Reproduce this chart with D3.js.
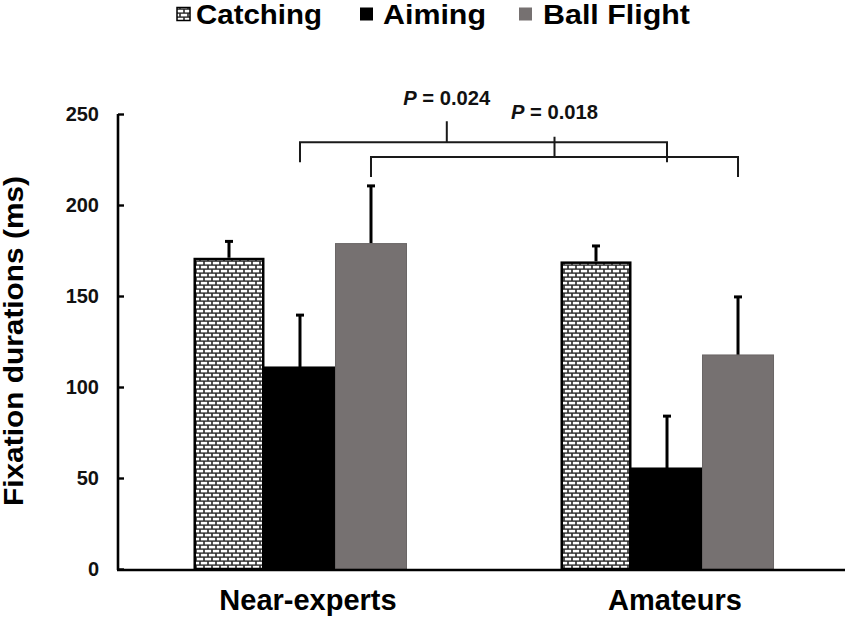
<!DOCTYPE html>
<html><head><meta charset="utf-8">
<script src="https://cdn.jsdelivr.net/npm/d3@7/dist/d3.min.js"></script>
<style>body{margin:0;background:#fff;} text{font-family:"Liberation Sans",Arial,sans-serif;}</style>
</head><body>
<svg id="c" width="853" height="618"></svg>
<script>
const groups = ["Near-experts", "Amateurs"];
const series = ["Catching", "Aiming", "Ball Flight"];
const catchingMean = [171, 169];
const catchingErr = [180, 177.5];
const aimingMean = [111, 55.5];
const aimingErr = [139.5, 84];
const flightMean = [178.8, 117.6];
const flightErr = [210.5, 149.5];
const yTicks = [0, 50, 100, 150, 200, 250];
const brackets = [
  {label: "0.024", group1: "Near-experts", group2: "Amateurs", series: "Aiming", level: 234.5, leg: 223.5, tickTop: 246, tickFrac: 0.40, labelY: 255},
  {label: "0.018", group1: "Near-experts", group2: "Amateurs", series: "Ball Flight", level: 226.4, leg: 215.4, tickTop: 237.5, tickFrac: 0.5, labelY: 247}
];

const means = {"Catching": catchingMean, "Aiming": aimingMean, "Ball Flight": flightMean};
const errs = {"Catching": catchingErr, "Aiming": aimingErr, "Ball Flight": flightErr};
const colors = {"Catching": "url(#brick)", "Aiming": "#000000", "Ball Flight": "#767171"};
const strokes = {"Catching": "#000", "Aiming": "#000", "Ball Flight": "#6a6666"};
const strokeW = {"Catching": 2.5, "Aiming": 1, "Ball Flight": 1};

const svg = d3.select("#c");
const defs = svg.append("defs");
const pat = defs.append("pattern").attr("id", "brick").attr("patternUnits", "userSpaceOnUse")
  .attr("width", 8).attr("height", 8).attr("x", 0).attr("y", 1);
pat.append("rect").attr("width", 8).attr("height", 8).attr("fill", "#2a2a2a");
[[0.8, 0.8], [4.8, 4.8], [-3.2, 4.8]].forEach(([x, y]) =>
  pat.append("rect").attr("x", x).attr("y", y).attr("width", 6.4).attr("height", 2.6).attr("fill", "#fff"));

const y = d3.scaleLinear().domain([0, 250]).range([569, 114]);
const x0 = d3.scaleBand().domain(groups).range([117, 850]).paddingInner(0.4196).paddingOuter(0.2084);
const x1 = d3.scaleBand().domain(series).range([0, x0.bandwidth()]).padding(0);

const rows = [];
groups.forEach((g, gi) => series.forEach(s => rows.push({g, s, v: means[s][gi], e: errs[s][gi]})));

// error bars (behind bars)
const eb = svg.append("g");
rows.forEach(d => {
  const cx = x0(d.g) + x1(d.s) + x1.bandwidth() / 2;
  eb.append("line").attr("x1", cx).attr("x2", cx).attr("y1", y(d.v)).attr("y2", y(d.e))
    .attr("stroke", "#000").attr("stroke-width", 3);
  eb.append("line").attr("x1", cx - 4).attr("x2", cx + 4).attr("y1", y(d.e)).attr("y2", y(d.e))
    .attr("stroke", "#000").attr("stroke-width", 3);
});

// bars
svg.append("g").selectAll("rect").data(rows).join("rect")
  .attr("x", d => x0(d.g) + x1(d.s) + (d.s === "Catching" ? 1.25 : 0))
  .attr("y", d => y(d.v) + (d.s === "Catching" ? 1.25 : 0))
  .attr("width", d => x1.bandwidth() - (d.s === "Catching" ? 2.5 : 0))
  .attr("height", d => y(0) - y(d.v) - (d.s === "Catching" ? 1.25 : 0))
  .attr("fill", d => colors[d.s])
  .attr("stroke", d => strokes[d.s])
  .attr("stroke-width", d => strokeW[d.s]);

// y axis
const yAxis = d3.axisRight(y).tickValues(yTicks).tickSize(6).tickFormat("");
const ya = svg.append("g").attr("transform", "translate(118,0)").call(yAxis);
ya.select(".domain").attr("stroke", "#000").attr("stroke-width", 2.6).attr("d", "M0,114V570");
ya.selectAll(".tick line").attr("stroke", "#000").attr("stroke-width", 2.4);
svg.append("g").selectAll("text").data(yTicks).join("text")
  .attr("x", 99).attr("y", d => y(d)).attr("dy", "0.36em").attr("text-anchor", "end")
  .attr("font-size", 20).attr("font-weight", "bold").attr("fill", "#111").text(d => d);

// x axis
const xAxis = d3.axisBottom(x0).tickSize(0).tickFormat("");
const xa = svg.append("g").attr("transform", "translate(0,570)").call(xAxis);
xa.select(".domain").attr("stroke", "#000").attr("stroke-width", 2.6).attr("d", "M117,0H845");
svg.append("g").selectAll("text").data(groups).join("text")
  .attr("x", d => x0(d) + x0.bandwidth() / 2 + 8).attr("y", 610).attr("text-anchor", "middle")
  .attr("font-size", 29).attr("font-weight", "bold").attr("fill", "#000").text(d => d);

// y title
svg.append("text").attr("transform", "translate(23,341) rotate(-90)").attr("text-anchor", "middle")
  .attr("font-size", 27).attr("font-weight", "bold").attr("fill", "#000")
  .attr("textLength", 330).attr("lengthAdjust", "spacingAndGlyphs")
  .text("Fixation durations (ms)");

// brackets
brackets.forEach(b => {
  const xa1 = x0(b.group1) + x1(b.series) + x1.bandwidth() / 2;
  const xa2 = x0(b.group2) + x1(b.series) + x1.bandwidth() / 2;
  const xt = xa1 + (xa2 - xa1) * b.tickFrac;
  svg.append("path")
    .attr("d", `M${xa1},${y(b.leg)}V${y(b.level)}H${xa2}V${y(b.leg)}M${xt},${y(b.level)}V${y(b.tickTop)}`)
    .attr("fill", "none").attr("stroke", "#1a1a1a").attr("stroke-width", 2);
  const t = svg.append("text").attr("x", xt).attr("y", y(b.labelY)).attr("text-anchor", "middle")
    .attr("font-size", 19.5).attr("font-weight", "bold").attr("fill", "#111")
    .attr("textLength", 87).attr("lengthAdjust", "spacingAndGlyphs");
  t.append("tspan").attr("font-style", "italic").text("P");
  t.append("tspan").text(" = " + b.label);
});

// legend
const legendX = [{m: 177, t: 196, w: 126}, {m: 360, t: 383, w: 103}, {m: 519, t: 543, w: 147}];
const lg = svg.append("g");
series.forEach((s, i) => {
  lg.append("rect").attr("x", legendX[i].m).attr("y", 7.5).attr("width", 13).attr("height", 13)
    .attr("fill", colors[s]).attr("stroke", s === "Catching" ? "#000" : "none").attr("stroke-width", 1.5);
  lg.append("text").attr("x", legendX[i].t).attr("y", 23.5).attr("font-size", 27).attr("font-weight", "bold")
    .attr("textLength", legendX[i].w).attr("lengthAdjust", "spacingAndGlyphs").attr("fill", "#000").text(s);
});
</script>
</body></html>
